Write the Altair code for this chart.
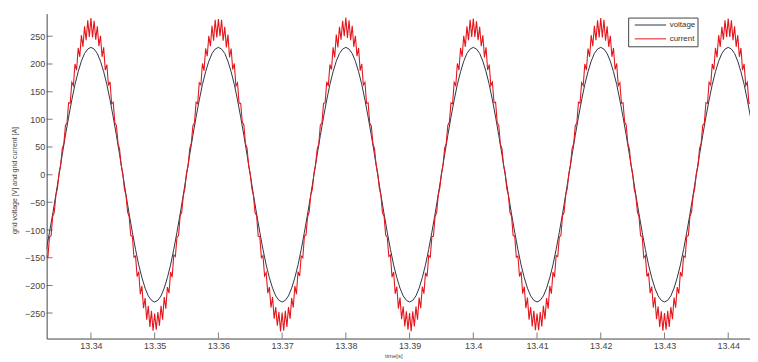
import altair as alt
import pandas as pd

# sampling grids of the traces (seconds)
SAMPLE_START = 13.333
VOLTAGE_STEP = 0.0005
CURRENT_STEP = 0.00025

# grid voltage [V] (one value per 0.5 ms sample)
VOLTAGE = [
    -135, -104, -71, -36, 0, 36, 71, 104, 135, 163, 186, 205, 219, 227,
    230, 227, 219, 205, 186, 163, 135, 104, 71, 36, 0, -36, -71, -104, -135, -163, -186, -205, -219, -227,
    -230, -227, -219, -205, -186, -163, -135, -104, -71, -36, 0, 36, 71, 104, 135, 163, 186, 205, 219, 227,
    230, 227, 219, 205, 186, 163, 135, 104, 71, 36, 0, -36, -71, -104, -135, -163, -186, -205, -219, -227,
    -230, -227, -219, -205, -186, -163, -135, -104, -71, -36, 0, 36, 71, 104, 135, 163, 186, 205, 219, 227,
    230, 227, 219, 205, 186, 163, 135, 104, 71, 36, 0, -36, -71, -104, -135, -163, -186, -205, -219, -227,
    -230, -227, -219, -205, -186, -163, -135, -104, -71, -36, 0, 36, 71, 104, 135, 163, 186, 205, 219, 227,
    230, 227, 219, 205, 186, 163, 135, 104, 71, 36, 0, -36, -71, -104, -135, -163, -186, -205, -219, -227,
    -230, -227, -219, -205, -186, -163, -135, -104, -71, -36, 0, 36, 71, 104, 135, 163, 186, 205, 219, 227,
    230, 227, 219, 205, 186, 163, 135, 104, 71, 36, 0, -36, -71, -104, -135, -163, -186, -205, -219, -227,
    -230, -227, -219, -205, -186, -163, -135, -104, -71, -36, 0, 36, 71, 104, 135, 163, 186, 205, 219, 227,
    230, 227, 219, 205, 186, 163, 135, 104,
]

# grid current [A] with switching ripple (one value per 0.25 ms sample)
CURRENT = [
    -146, -149, -112, -110, -75, -68, -37, -25,
    3, 17, 47, 56, 89, 94, 130, 129, 167, 161, 200, 189, 229, 213, 252, 231, 268, 243, 279, 249,
    # cycle 1
    283, 248, 278, 244, 268, 232, 251, 213, 230, 189, 199, 161, 168, 128, 131, 94, 89, 57, 46, 17,
    3, -26, -37, -67, -76, -110, -111, -149, -147, -184, -175, -216, -201, -241, -223, -262, -237, -275, -246, -282,
    -251, -280, -248, -273, -237, -262, -221, -242, -203, -214, -176, -185, -145, -148, -113, -110, -74, -68, -38, -25,
    4, 16, 47, 57, 88, 94, 131, 128, 166, 162, 201, 188, 228, 214, 251, 232, 269, 242, 280, 248,
    # cycle 2
    281, 250, 280, 242, 267, 230, 253, 212, 228, 190, 201, 160, 166, 129, 129, 95, 90, 56, 48, 16,
    2, -25, -38, -68, -74, -111, -112, -150, -146, -183, -177, -214, -203, -240, -221, -260, -239, -273, -248, -283,
    -249, -282, -246, -275, -239, -260, -223, -240, -201, -216, -175, -183, -147, -150, -111, -109, -76, -67, -36, -26,
    3, 18, 46, 55, 90, 93, 129, 130, 168, 160, 199, 190, 230, 212, 253, 230, 267, 244, 278, 250,
    # cycle 3
    284, 247, 279, 243, 269, 231, 251, 214, 229, 188, 200, 162, 167, 129, 130, 93, 88, 56, 47, 18,
    3, -24, -37, -69, -75, -109, -113, -148, -145, -185, -176, -215, -202, -242, -222, -261, -238, -274, -247, -280,
    -250, -283, -247, -274, -238, -262, -222, -241, -202, -215, -177, -184, -146, -149, -112, -111, -75, -69, -37, -24,
    2, 17, 48, 56, 89, 95, 130, 128, 167, 161, 201, 189, 229, 213, 251, 231, 268, 243, 280, 249,
    # cycle 4
    282, 249, 277, 243, 267, 232, 252, 212, 230, 189, 199, 161, 167, 130, 131, 94, 89, 55, 47, 17,
    4, -25, -36, -68, -75, -110, -111, -149, -147, -184, -175, -215, -202, -241, -222, -262, -239, -274, -246, -281,
    -251, -281, -248, -274, -237, -261, -223, -242, -201, -215, -176, -185, -146, -148, -113, -110, -74, -68, -37, -25,
    3, 17, 47, 56, 88, 94, 131, 129, 166, 161, 200, 189, 228, 213, 252, 232, 269, 243, 279, 248,
    # cycle 5
    283, 248, 280, 242, 268, 231, 251, 213, 229, 190, 201, 161, 166, 129, 130, 95, 90, 56, 46, 17,
    3, -26, -38, -67, -76, -110, -112, -150, -146, -184, -177, -214, -202, -240, -221, -261, -238, -275, -247, -282,
    -250, -280, -246, -275, -239, -261, -222, -240, -203, -215, -176, -184, -147, -149, -111, -110, -75, -67, -38, -25,
    3, 16, 47, 57, 89, 93, 130, 129, 167, 162, 200, 190, 229, 212, 252, 231, 267, 244, 279, 249,
    # tail
    282, 249, 279, 243, 268, 231, 252, 213, 229, 189, 200, 161, 167, 129, 130, 94,
]

SERIES = ["voltage", "current"]
COLORS = ["#2e3344", "#e4161c"]

X_TICKS = [13.34, 13.35, 13.36, 13.37, 13.38, 13.39, 13.40, 13.41, 13.42, 13.43, 13.44]
Y_TICKS = [-250, -200, -150, -100, -50, 0, 50, 100, 150, 200, 250]
X_DOMAIN = [13.33305, 13.44342]
Y_DOMAIN = [-296, 291]

rows = []
for i, v in enumerate(VOLTAGE):
    rows.append({"t": round(SAMPLE_START + VOLTAGE_STEP * i, 6), "value": v, "series": "voltage"})
for i, c in enumerate(CURRENT):
    rows.append({"t": round(SAMPLE_START + CURRENT_STEP * i, 6), "value": c, "series": "current"})
df = pd.DataFrame(rows)

FONT = "Liberation Sans"
AX = "#444444"

x_scale = alt.Scale(domain=X_DOMAIN, nice=False, zero=False)
y_scale = alt.Scale(domain=Y_DOMAIN, nice=False, zero=False)

x_axis = alt.Axis(
    values=X_TICKS, format=".2~f", title="time[s]", grid=False,
    tickSize=0, labelPadding=3, labelFontSize=9, labelColor=AX, labelFont=FONT,
    domainColor=AX, titleFont=FONT, titleFontSize=6, titleFontWeight="normal",
    titleColor=AX, titleX=350, titleY=17, titleBaseline="middle", labelFlush=False,
)
y_axis = alt.Axis(
    values=Y_TICKS, format="d", title="grid voltage [V] and grid current [A]", grid=False,
    tickSize=0, labelPadding=2, labelFontSize=9, labelColor=AX, labelFont=FONT,
    domainColor=AX, titleFont=FONT, titleFontSize=7, titleFontWeight="normal",
    titleColor=AX, titleX=-32, titleY=168, titleAngle=-90, titleAlign="center",
    titleBaseline="middle", labelFlush=False,
)
x_enc = alt.X("t:Q", scale=x_scale, axis=x_axis)
y_enc = alt.Y("value:Q", scale=y_scale, axis=y_axis)

color_enc = alt.Color(
    "series:N",
    scale=alt.Scale(domain=SERIES, range=COLORS),
    legend=alt.Legend(
        orient="none", legendX=587, legendY=4, title=None,
        symbolType="stroke", symbolSize=1000, symbolStrokeWidth=1, symbolOffset=4,
        labelFontSize=8, labelFont=FONT, labelColor="#333333", labelOffset=3,
        strokeColor=AX, fillColor="white", padding=2, rowPadding=3, clipHeight=11,
    ),
)

base = alt.Chart(df)
volt = base.transform_filter(alt.datum.series == "voltage").mark_line(
    strokeWidth=1, clip=True
).encode(x=x_enc, y=y_enc, color=color_enc)
curr = base.transform_filter(alt.datum.series == "current").mark_line(
    strokeWidth=1.1, clip=True
).encode(x=x_enc, y=y_enc, color=color_enc)

xt = alt.Chart(pd.DataFrame({"t": X_TICKS, "value": [Y_DOMAIN[0]] * len(X_TICKS)})).mark_tick(
    orient="vertical", size=12, thickness=1, clip=True, color=AX
).encode(x=x_enc, y=y_enc)
yt = alt.Chart(pd.DataFrame({"t": [X_DOMAIN[0]] * len(Y_TICKS), "value": Y_TICKS})).mark_tick(
    orient="horizontal", size=12, thickness=1, clip=True, color=AX
).encode(x=x_enc, y=y_enc)

chart = alt.layer(volt, curr, xt, yt).properties(
    width=710, height=328,
    autosize=alt.AutoSizeParams(type="none"),
    padding={"left": 39, "top": 4, "right": 0, "bottom": 20},
    background="white",
).configure_view(stroke=None)

chart.save("out.html", embed_options={"renderer": "svg", "actions": False})
